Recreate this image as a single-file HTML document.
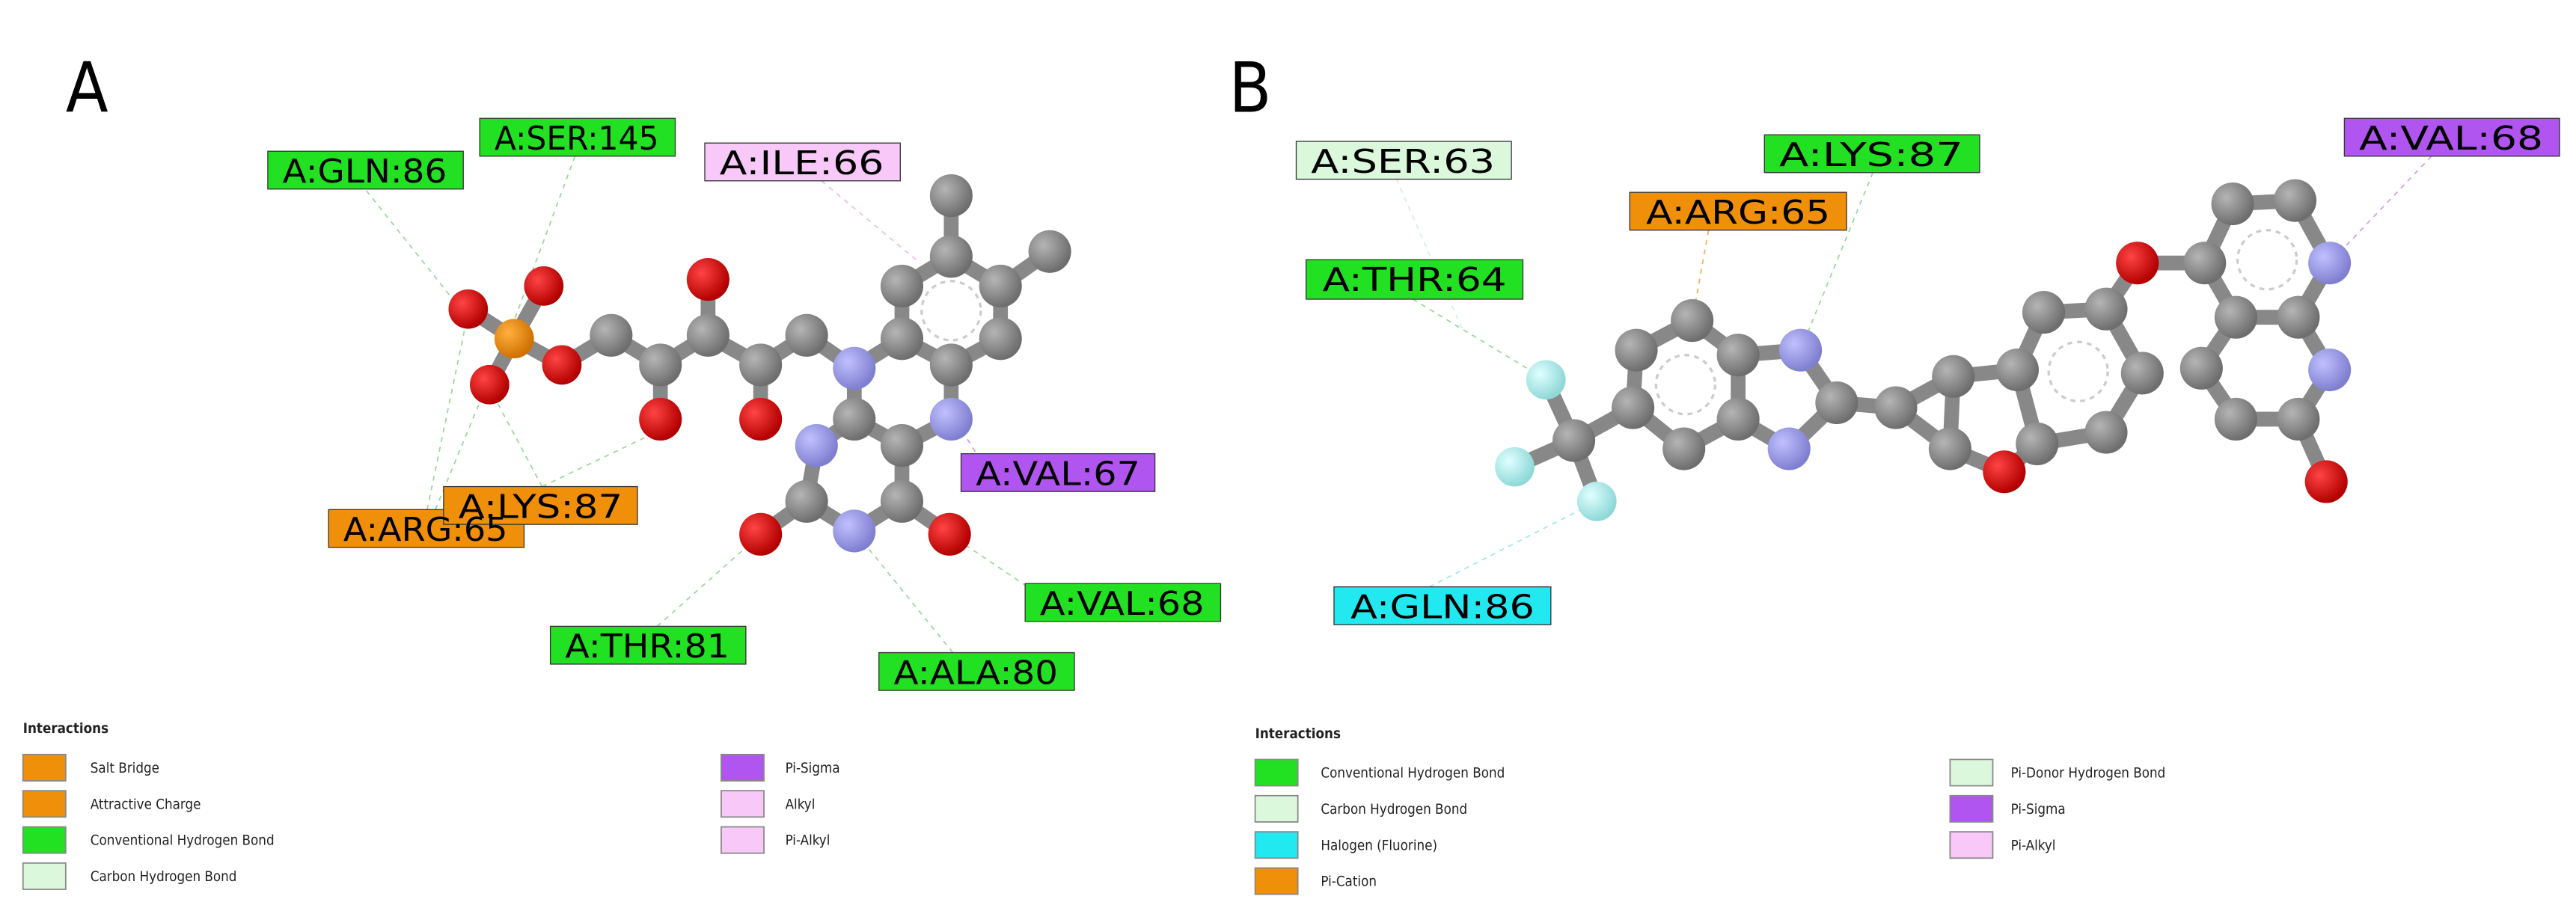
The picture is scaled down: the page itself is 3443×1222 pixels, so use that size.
<!DOCTYPE html>
<html><head><meta charset="utf-8"><style>
html,body{margin:0;padding:0;background:#fff;width:3443px;height:1222px;overflow:hidden}
svg{display:block}
text{font-family:"DejaVu Sans Condensed","Liberation Sans Narrow","Liberation Sans",sans-serif}
</style></head><body>
<svg width="3443" height="1222" viewBox="0 0 1568 556" preserveAspectRatio="none" xmlns="http://www.w3.org/2000/svg">
<defs>
<radialGradient id="gC" cx="35%" cy="35%" r="65%"><stop offset="0" stop-color="#b5b5b5"/><stop offset="1" stop-color="#6e6e6e"/></radialGradient>
<radialGradient id="gO" cx="35%" cy="35%" r="65%"><stop offset="0" stop-color="#ff4444"/><stop offset="1" stop-color="#b30000"/></radialGradient>
<radialGradient id="gN" cx="35%" cy="35%" r="65%"><stop offset="0" stop-color="#c0c0ff"/><stop offset="1" stop-color="#7f7fd0"/></radialGradient>
<radialGradient id="gP" cx="35%" cy="35%" r="65%"><stop offset="0" stop-color="#ffb040"/><stop offset="1" stop-color="#d07000"/></radialGradient>
<radialGradient id="gF" cx="35%" cy="35%" r="65%"><stop offset="0" stop-color="#e0ffff"/><stop offset="1" stop-color="#8fd8d8"/></radialGradient>
</defs>
<text x="40" y="68" font-size="42" font-family="Liberation Sans,sans-serif">A</text>
<text x="748" y="68" font-size="42" font-family="Liberation Sans,sans-serif">B</text>

<g stroke="#9ad89a" stroke-width="0.8" stroke-dasharray="3,3" fill="none">
<line x1="223" y1="116" x2="290" y2="200"/><line x1="350" y1="95" x2="300" y2="230"/>
<line x1="500" y1="110" x2="560" y2="160" stroke="#e8c0e8"/><line x1="600" y1="285" x2="575" y2="245" stroke="#d0a0e0"/>
<line x1="330" y1="296" x2="300" y2="240"/><line x1="330" y1="296" x2="395" y2="265"/>
<line x1="260" y1="310" x2="285" y2="190"/><line x1="265" y1="310" x2="296" y2="235"/>
<line x1="630" y1="360" x2="578" y2="325"/><line x1="400" y1="381" x2="463" y2="325"/>
<line x1="580" y1="397" x2="520" y2="323"/>
<line x1="850" y1="109" x2="890" y2="200" stroke="#d8f0d8"/><line x1="860" y1="182" x2="941" y2="231"/>
<line x1="870" y1="357" x2="972" y2="305" stroke="#a0e8e8"/><line x1="1040" y1="140" x2="1030" y2="195" stroke="#f0b060"/>
<line x1="1140" y1="105" x2="1096" y2="213"/><line x1="1480" y1="95" x2="1418" y2="160" stroke="#d0a0e0"/>
</g>

<g stroke="#888" stroke-width="9" stroke-linecap="round">
<line x1="313" y1="206" x2="285" y2="188"/><line x1="313" y1="206" x2="331" y2="174"/><line x1="313" y1="206" x2="298" y2="234"/><line x1="313" y1="206" x2="342" y2="222"/>
<line x1="342" y1="222" x2="372" y2="204"/><line x1="372" y1="204" x2="402" y2="222"/><line x1="402" y1="222" x2="402" y2="255"/><line x1="402" y1="222" x2="431" y2="204"/>
<line x1="431" y1="204" x2="431" y2="170"/><line x1="431" y1="204" x2="463" y2="222"/><line x1="463" y1="222" x2="463" y2="255"/><line x1="463" y1="222" x2="491" y2="204"/>
<line x1="491" y1="204" x2="520" y2="224"/><line x1="520" y1="224" x2="549" y2="206"/><line x1="549" y1="206" x2="549" y2="174"/><line x1="549" y1="174" x2="579" y2="156"/>
<line x1="579" y1="156" x2="579" y2="119"/><line x1="579" y1="156" x2="609" y2="174"/><line x1="609" y1="174" x2="639" y2="153"/><line x1="609" y1="174" x2="609" y2="206"/>
<line x1="609" y1="206" x2="579" y2="222"/><line x1="579" y1="222" x2="549" y2="206"/><line x1="579" y1="222" x2="579" y2="255"/><line x1="579" y1="255" x2="549" y2="271"/>
<line x1="549" y1="271" x2="520" y2="255"/><line x1="520" y1="255" x2="520" y2="224"/><line x1="520" y1="255" x2="497" y2="271"/><line x1="497" y1="271" x2="491" y2="305"/>
<line x1="491" y1="305" x2="463" y2="325"/><line x1="491" y1="305" x2="520" y2="323"/><line x1="520" y1="323" x2="549" y2="305"/><line x1="549" y1="305" x2="578" y2="325"/><line x1="549" y1="305" x2="549" y2="271"/>

<line x1="941" y1="231" x2="958" y2="268"/><line x1="922" y1="284" x2="958" y2="268"/><line x1="972" y1="305" x2="958" y2="268"/><line x1="958" y1="268" x2="994" y2="248"/>
<line x1="994" y1="248" x2="996" y2="213"/><line x1="996" y1="213" x2="1030" y2="195"/><line x1="1030" y1="195" x2="1058" y2="216"/><line x1="1058" y1="216" x2="1058" y2="255"/>
<line x1="1058" y1="255" x2="1025" y2="273"/><line x1="1025" y1="273" x2="994" y2="248"/><line x1="1058" y1="216" x2="1096" y2="213"/><line x1="1096" y1="213" x2="1118" y2="245"/>
<line x1="1118" y1="245" x2="1089" y2="273"/><line x1="1089" y1="273" x2="1058" y2="255"/><line x1="1118" y1="245" x2="1154" y2="248"/><line x1="1154" y1="248" x2="1189" y2="229"/>
<line x1="1189" y1="229" x2="1187" y2="273"/><line x1="1187" y1="273" x2="1154" y2="248"/><line x1="1187" y1="273" x2="1220" y2="287"/><line x1="1220" y1="287" x2="1240" y2="270"/>
<line x1="1240" y1="270" x2="1228" y2="225"/><line x1="1228" y1="225" x2="1189" y2="229"/><line x1="1228" y1="225" x2="1244" y2="190"/><line x1="1244" y1="190" x2="1282" y2="188"/>
<line x1="1282" y1="188" x2="1304" y2="227"/><line x1="1304" y1="227" x2="1282" y2="263"/><line x1="1282" y1="263" x2="1240" y2="270"/><line x1="1282" y1="188" x2="1301" y2="160"/>
<line x1="1301" y1="160" x2="1342" y2="160"/><line x1="1342" y1="160" x2="1359" y2="124"/><line x1="1359" y1="124" x2="1397" y2="122"/><line x1="1397" y1="122" x2="1418" y2="160"/>
<line x1="1418" y1="160" x2="1399" y2="193"/><line x1="1399" y1="193" x2="1361" y2="193"/><line x1="1361" y1="193" x2="1342" y2="160"/><line x1="1399" y1="193" x2="1418" y2="225"/>
<line x1="1418" y1="225" x2="1399" y2="255"/><line x1="1399" y1="255" x2="1416" y2="293"/><line x1="1399" y1="255" x2="1361" y2="255"/><line x1="1361" y1="255" x2="1340" y2="224"/><line x1="1340" y1="224" x2="1361" y2="193"/>
</g>
<g fill="none" stroke="#ccc" stroke-width="1.5" stroke-dasharray="3,3">
<circle cx="579" cy="189" r="18"/><circle cx="1026" cy="234" r="18"/><circle cx="1265" cy="226" r="18"/><circle cx="1380" cy="158" r="18"/>
</g>

<g fill="url(#gC)">
<circle cx="372" cy="204" r="13"/><circle cx="402" cy="222" r="13"/><circle cx="431" cy="204" r="13"/><circle cx="463" cy="222" r="13"/><circle cx="491" cy="204" r="13"/>
<circle cx="549" cy="206" r="13"/><circle cx="549" cy="174" r="13"/><circle cx="579" cy="156" r="13"/><circle cx="579" cy="119" r="13"/><circle cx="609" cy="174" r="13"/>
<circle cx="639" cy="153" r="13"/><circle cx="609" cy="206" r="13"/><circle cx="579" cy="222" r="13"/><circle cx="549" cy="271" r="13"/><circle cx="520" cy="255" r="13"/>
<circle cx="491" cy="305" r="13"/><circle cx="549" cy="305" r="13"/>
<circle cx="958" cy="268" r="13"/><circle cx="994" cy="248" r="13"/><circle cx="996" cy="213" r="13"/><circle cx="1030" cy="195" r="13"/><circle cx="1058" cy="216" r="13"/>
<circle cx="1058" cy="255" r="13"/><circle cx="1025" cy="273" r="13"/><circle cx="1118" cy="245" r="13"/><circle cx="1154" cy="248" r="13"/><circle cx="1189" cy="229" r="13"/>
<circle cx="1187" cy="273" r="13"/><circle cx="1240" cy="270" r="13"/><circle cx="1228" cy="225" r="13"/><circle cx="1244" cy="190" r="13"/><circle cx="1282" cy="188" r="13"/>
<circle cx="1304" cy="227" r="13"/><circle cx="1282" cy="263" r="13"/><circle cx="1342" cy="160" r="13"/><circle cx="1359" cy="124" r="13"/><circle cx="1397" cy="122" r="13"/>
<circle cx="1399" cy="193" r="13"/><circle cx="1399" cy="255" r="13"/><circle cx="1361" cy="255" r="13"/><circle cx="1340" cy="224" r="13"/><circle cx="1361" cy="193" r="13"/>
</g>
<g fill="url(#gO)">
<circle cx="285" cy="188" r="12"/><circle cx="331" cy="174" r="12"/><circle cx="298" cy="234" r="12"/><circle cx="342" cy="222" r="12"/>
<circle cx="402" cy="255" r="13"/><circle cx="431" cy="170" r="13"/><circle cx="463" cy="255" r="13"/><circle cx="463" cy="325" r="13"/><circle cx="578" cy="325" r="13"/>
<circle cx="1220" cy="287" r="13"/><circle cx="1301" cy="160" r="13"/><circle cx="1416" cy="293" r="13"/>
</g>
<g fill="url(#gN)">
<circle cx="520" cy="224" r="13"/><circle cx="579" cy="255" r="13"/><circle cx="497" cy="271" r="13"/><circle cx="520" cy="323" r="13"/>
<circle cx="1096" cy="213" r="13"/><circle cx="1089" cy="273" r="13"/><circle cx="1418" cy="160" r="13"/><circle cx="1418" cy="225" r="13"/>
</g>
<circle cx="313" cy="206" r="12" fill="url(#gP)"/>
<g fill="url(#gF)"><circle cx="941" cy="231" r="12"/><circle cx="922" cy="284" r="12"/><circle cx="972" cy="305" r="12"/></g>

<g stroke="#333" stroke-width="0.6">
<rect x="163" y="92" width="119" height="23" fill="#22e022"/>
<rect x="292" y="72" width="119" height="23" fill="#22e022"/>
<rect x="429" y="87" width="119" height="23" fill="#f8c8f8"/>
<rect x="585" y="276" width="118" height="23" fill="#b055f0"/>
<rect x="200" y="310" width="119" height="23" fill="#f0900a"/>
<rect x="270" y="296" width="118" height="23" fill="#f0900a"/>
<rect x="624" y="355" width="119" height="23" fill="#22e022"/>
<rect x="335" y="381" width="119" height="23" fill="#22e022"/>
<rect x="535" y="397" width="119" height="23" fill="#22e022"/>
<rect x="789" y="86" width="131" height="23" fill="#dcf8dc"/>
<rect x="1074" y="82" width="131" height="23" fill="#22e022"/>
<rect x="992" y="117" width="132" height="23" fill="#f0900a"/>
<rect x="1427" y="72" width="131" height="23" fill="#b055f0"/>
<rect x="795" y="158" width="132" height="24" fill="#22e022"/>
<rect x="812" y="357" width="132" height="23" fill="#22e8f0"/>
</g>
<g font-size="20" fill="#000" text-anchor="middle">
<text x="222" y="111" textLength="100" lengthAdjust="spacingAndGlyphs">A:GLN:86</text>
<text x="351" y="91" textLength="100" lengthAdjust="spacingAndGlyphs">A:SER:145</text>
<text x="488" y="106" textLength="100" lengthAdjust="spacingAndGlyphs">A:ILE:66</text>
<text x="644" y="295" textLength="100" lengthAdjust="spacingAndGlyphs">A:VAL:67</text>
<text x="259" y="329" textLength="100" lengthAdjust="spacingAndGlyphs">A:ARG:65</text>
<text x="329" y="315" textLength="100" lengthAdjust="spacingAndGlyphs">A:LYS:87</text>
<text x="683" y="374" textLength="100" lengthAdjust="spacingAndGlyphs">A:VAL:68</text>
<text x="394" y="400" textLength="100" lengthAdjust="spacingAndGlyphs">A:THR:81</text>
<text x="594" y="416" textLength="100" lengthAdjust="spacingAndGlyphs">A:ALA:80</text>
<text x="854" y="105" textLength="112" lengthAdjust="spacingAndGlyphs">A:SER:63</text>
<text x="1139" y="101" textLength="112" lengthAdjust="spacingAndGlyphs">A:LYS:87</text>
<text x="1058" y="136" textLength="112" lengthAdjust="spacingAndGlyphs">A:ARG:65</text>
<text x="1492" y="91" textLength="112" lengthAdjust="spacingAndGlyphs">A:VAL:68</text>
<text x="861" y="177" textLength="112" lengthAdjust="spacingAndGlyphs">A:THR:64</text>
<text x="878" y="376" textLength="112" lengthAdjust="spacingAndGlyphs">A:GLN:86</text>
</g>

<g font-size="8.5" fill="#222">
<text x="14" y="446" font-weight="bold">Interactions</text>
<g stroke="#888" stroke-width="0.8">
<rect x="14" y="459" width="26" height="16" fill="#f0900a"/><rect x="14" y="481" width="26" height="16" fill="#f0900a"/>
<rect x="14" y="503" width="26" height="16" fill="#22e022"/><rect x="14" y="525" width="26" height="16" fill="#dcf8dc"/>
<rect x="439" y="459" width="26" height="16" fill="#b055f0"/><rect x="439" y="481" width="26" height="16" fill="#f8c8f8"/><rect x="439" y="503" width="26" height="16" fill="#f8c8f8"/>
</g>
<text x="55" y="470">Salt Bridge</text><text x="55" y="492">Attractive Charge</text><text x="55" y="514">Conventional Hydrogen Bond</text><text x="55" y="536">Carbon Hydrogen Bond</text>
<text x="478" y="470">Pi-Sigma</text><text x="478" y="492">Alkyl</text><text x="478" y="514">Pi-Alkyl</text>

<text x="764" y="449" font-weight="bold">Interactions</text>
<g stroke="#888" stroke-width="0.8">
<rect x="764" y="462" width="26" height="16" fill="#22e022"/><rect x="764" y="484" width="26" height="16" fill="#dcf8dc"/>
<rect x="764" y="506" width="26" height="16" fill="#22e8f0"/><rect x="764" y="528" width="26" height="16" fill="#f0900a"/>
<rect x="1187" y="462" width="26" height="16" fill="#dcf8dc"/><rect x="1187" y="484" width="26" height="16" fill="#b055f0"/><rect x="1187" y="506" width="26" height="16" fill="#f8c8f8"/>
</g>
<text x="804" y="473">Conventional Hydrogen Bond</text><text x="804" y="495">Carbon Hydrogen Bond</text><text x="804" y="517">Halogen (Fluorine)</text><text x="804" y="539">Pi-Cation</text>
<text x="1224" y="473">Pi-Donor Hydrogen Bond</text><text x="1224" y="495">Pi-Sigma</text><text x="1224" y="517">Pi-Alkyl</text>
</g>
</svg>
</body></html>
